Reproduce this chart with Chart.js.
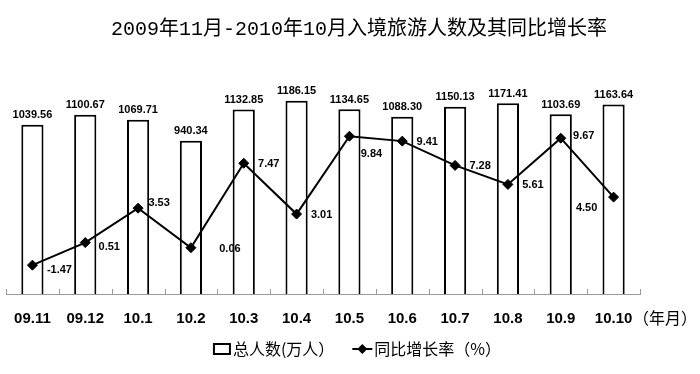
<!DOCTYPE html>
<html>
<head>
<meta charset="utf-8">
<script src="https://cdn.jsdelivr.net/npm/chart.js@4/dist/chart.umd.min.js"></script>
<style>
    html, body { margin: 0; padding: 0; background: #fff; }
    #wrap { width: 700px; height: 374px; }
</style>
</head>
<body>
<div id="wrap"><canvas id="chart"></canvas></div>
<script>
    // Chart data.
    var months = ['09.11', '09.12', '10.1', '10.2', '10.3', '10.4', '10.5', '10.6', '10.7', '10.8', '10.9', '10.10'];
    var visitors = [1039.56, 1100.67, 1069.71, 940.34, 1132.85, 1186.15, 1134.65, 1088.30, 1150.13, 1171.41, 1103.69, 1163.64];
    var growth = [-1.47, 0.51, 3.53, 0.06, 7.47, 3.01, 9.84, 9.41, 7.28, 5.61, 9.67, 4.50];

    var titleText = '2009年11月-2010年10月入境旅游人数及其同比增长率';
    var unitText = '（年月）';
    var barName = '总人数(万人）';
    var lineName = '同比增长率（%）';

    var cjk = "'Noto Sans CJK SC'";
    var labelFont = "bold 11px 'Liberation Sans', Arial, sans-serif";

    // Where the growth labels sit relative to their points (dx, dy), default to the right.
    var growthLabelShift = {0: [27, 5], 1: [24, 4], 2: [21, -5], 3: [39, 1], 6: [22, 18], 10: [23, -2], 11: [-27, 11]};

    /**
     * Draws value labels, inner tick marks, title, unit and legend.
     */
    var decorations = {
        id: 'decorations',
        afterDatasetsDraw: function(chart) {
            var ctx = chart.ctx;
            var x = chart.scales.x;
            var area = chart.chartArea;

            ctx.save();

            // Small tick marks pointing up from the axis, between categories.
            ctx.strokeStyle = '#9a9a9a';
            ctx.lineWidth = 1;
            for (var i = 0; i <= months.length; i++) {
                var tx = Math.round(x.getPixelForValue(i - 0.5)) + 0.5;
                ctx.beginPath();
                ctx.moveTo(tx, area.bottom - 5);
                ctx.lineTo(tx, area.bottom);
                ctx.stroke();
            }

            ctx.fillStyle = '#000';
            ctx.font = labelFont;

            // Bar value labels.
            ctx.textAlign = 'center';
            ctx.textBaseline = 'bottom';
            chart.getDatasetMeta(0).data.forEach(function(bar, idx) {
                ctx.fillText(visitors[idx].toFixed(2), bar.x, bar.y - 4);
            });

            // Growth value labels.
            ctx.textBaseline = 'middle';
            chart.getDatasetMeta(1).data.forEach(function(pt, idx) {
                var shift = growthLabelShift[idx] || [25, 1];
                ctx.fillText(growth[idx].toFixed(2), pt.x + shift[0], pt.y + shift[1]);
            });

            ctx.restore();
        },
        afterDraw: function(chart) {
            var ctx = chart.ctx;
            var area = chart.chartArea;

            ctx.save();
            ctx.fillStyle = '#000';

            // Title.
            ctx.font = "20px 'Liberation Mono', " + cjk + ", serif";
            ctx.textAlign = 'center';
            ctx.textBaseline = 'middle';
            ctx.fillText(titleText, 359, 30);

            // Unit after the last category label.
            ctx.font = '16px ' + cjk;
            ctx.textAlign = 'left';
            ctx.fillText(unitText, area.right - 7, area.bottom + 24);

            // Legend.
            ctx.font = '16px ' + cjk;
            var w1 = ctx.measureText(barName).width;
            var w2 = ctx.measureText(lineName).width;
            var total = 20 + w1 + 18 + 22 + w2;
            var lx = 357 - total / 2;
            var ly = 349;

            ctx.lineWidth = 2;
            ctx.strokeStyle = '#000';
            ctx.fillStyle = '#fff';
            ctx.fillRect(lx + 1, ly - 5, 16, 10);
            ctx.strokeRect(lx + 1, ly - 5, 16, 10);

            ctx.fillStyle = '#000';
            ctx.fillText(barName, lx + 20, ly);

            var mx = lx + 20 + w1 + 18;
            ctx.beginPath();
            ctx.moveTo(mx, ly);
            ctx.lineTo(mx + 20, ly);
            ctx.stroke();
            ctx.beginPath();
            ctx.moveTo(mx + 10, ly - 5);
            ctx.lineTo(mx + 15, ly);
            ctx.lineTo(mx + 10, ly + 5);
            ctx.lineTo(mx + 5, ly);
            ctx.closePath();
            ctx.fill();

            ctx.fillText(lineName, mx + 22, ly);

            ctx.restore();
        }
    };

    var chart = new Chart(document.getElementById('chart'), {
        data: {
            labels: months,
            datasets: [{
                type: 'bar',
                label: barName,
                data: visitors,
                yAxisID: 'y',
                backgroundColor: '#fff',
                borderColor: '#000',
                borderWidth: 2,
                borderSkipped: 'bottom',
                barPercentage: 0.42,
                categoryPercentage: 1,
                order: 2
            }, {
                type: 'line',
                label: lineName,
                data: growth,
                yAxisID: 'y1',
                borderColor: '#000',
                borderWidth: 2,
                backgroundColor: '#000',
                pointStyle: 'rectRot',
                pointRadius: 5,
                pointBorderWidth: 1,
                tension: 0,
                fill: false,
                order: 1
            }]
        },
        options: {
            responsive: true,
            maintainAspectRatio: false,
            animation: false,
            layout: {
                // The library adds a few pixels on the left by itself.
                padding: { top: 66, left: -2, right: 60, bottom: 42 }
            },
            scales: {
                x: {
                    offset: true,
                    // Ticks are drawn by the plugin; keep the space for the labels only.
                    grid: { display: false, drawTicks: true, tickLength: 12, tickColor: 'rgba(0,0,0,0)' },
                    border: { display: true, color: '#9a9a9a', width: 1 },
                    ticks: {
                        padding: 4,
                        color: '#000',
                        maxRotation: 0,
                        autoSkip: false,
                        font: { family: "'Liberation Sans', Arial, sans-serif", size: 15, weight: 'bold' }
                    },
                    afterFit: function(scale) {
                        // Labels fit inside their categories, no extra side room needed.
                        scale.paddingLeft = 0;
                        scale.paddingRight = 0;
                    }
                },
                y: {
                    display: false,
                    min: 0,
                    max: 1400
                },
                y1: {
                    display: false,
                    min: -4,
                    max: 16
                }
            },
            plugins: {
                legend: { display: false },
                title: { display: false },
                tooltip: { enabled: false }
            }
        },
        plugins: [decorations]
    });
</script>
</body>
</html>
